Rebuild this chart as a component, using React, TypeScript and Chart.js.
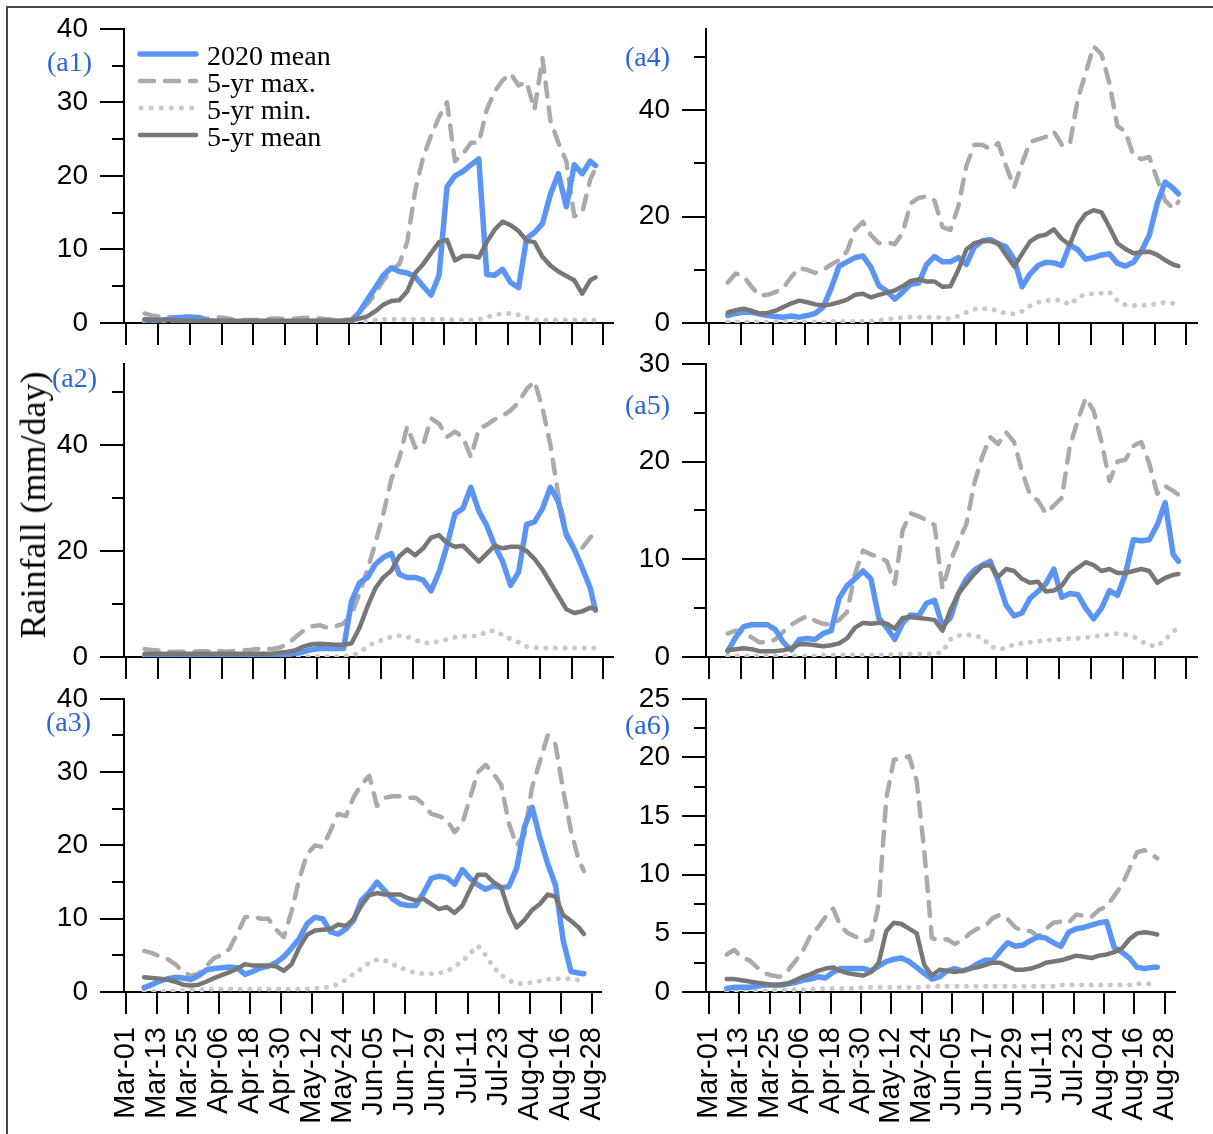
import React, { useEffect, useRef } from "react";
import { Chart, registerables } from "chart.js";

Chart.register(...registerables);

// ---------- DATA ----------
// Day index counted from Mar-01 (= 0)
const DAYS = [
  7, 10, 13, 16, 19, 22, 25, 28, 31, 34,
  37, 40, 43, 46, 49, 52, 55, 58, 61, 64,
  67, 70, 73, 76, 79, 82, 85, 88, 91, 94,
  97, 100, 103, 106, 109, 112, 115, 118, 121, 124,
  127, 130, 133, 136, 139, 142, 145, 148, 151, 154,
  157, 160, 163, 166, 169, 172, 175, 177,
];
const X_TICKS = [0, 12, 24, 36, 48, 60, 72, 84, 96, 108, 120, 132, 144, 156, 168, 180];
const X_LABELS = [
  "Mar-01", "Mar-13", "Mar-25", "Apr-06", "Apr-18", "Apr-30", "May-12", "May-24",
  "Jun-05", "Jun-17", "Jun-29", "Jul-11", "Jul-23", "Aug-04", "Aug-16", "Aug-28",
];
const SERIES_NAMES = ["2020 mean", "5-yr max.", "5-yr min.", "5-yr mean"];

// (a1)
const A1_2020 = [
  0.4, 0.4, 0.4, 0.5, 0.7, 0.8, 0.8, 0.7, 0.3, 0.2,
  0.2, 0.1, 0.1, 0.1, 0.1, 0.1, 0.1, 0.1, 0.1, 0.1,
  0.2, 0.2, 0.2, 0.2, 0.2, 0.2, 0.3, 1.5, 3.2, 4.8,
  6.5, 7.5, 7.0, 6.8, 6.3, 5.0, 3.8, 6.5, 18.5, 20.0,
  20.6, 21.5, 22.3, 6.6, 6.5, 7.3, 5.5, 4.8, 11.5, 12.3,
  13.5, 17.5, 20.3, 15.8, 21.5, 20.3, 22.0, 21.4,
];
const A1_MAX = [
  1.3, 1.0, 0.9, 0.8, 0.8, 0.6, 0.5, 0.4, 0.6, 0.8,
  0.7, 0.5, 0.4, 0.4, 0.4, 0.5, 0.6, 0.6, 0.5, 0.6,
  0.7, 0.7, 0.6, 0.5, 0.4, 0.4, 0.5, 1.5, 2.6, 4.0,
  5.8, 7.2, 8.0, 11.0, 18.0, 22.5, 25.5, 28.0, 30.0, 22.0,
  23.0, 24.5, 24.5, 29.0, 31.5, 33.0, 33.9, 32.3, 32.8, 29.0,
  36.0, 27.5, 24.5, 22.0, 14.5, 15.0, 19.5, 21.0,
];
const A1_MIN = [
  0.1, 0.1, 0.1, 0.1, 0.1, 0.1, 0.1, 0.1, 0.1, 0.1,
  0.1, 0.1, 0.1, 0.1, 0.1, 0.1, 0.1, 0.1, 0.1, 0.1,
  0.1, 0.1, 0.1, 0.1, 0.1, 0.1, 0.1, 0.2, 0.3, 0.4,
  0.5, 0.5, 0.5, 0.5, 0.5, 0.5, 0.5, 0.5, 0.5, 0.4,
  0.4, 0.4, 0.5, 0.8, 1.1, 1.3, 1.3, 1.1, 0.7, 0.4,
  0.4, 0.4, 0.4, 0.4, 0.4, 0.4, 0.4, 0.4,
];
const A1_MEAN = [
  0.5, 0.4, 0.4, 0.4, 0.3, 0.3, 0.3, 0.3, 0.3, 0.3,
  0.3, 0.3, 0.3, 0.3, 0.3, 0.3, 0.3, 0.3, 0.3, 0.3,
  0.3, 0.3, 0.3, 0.3, 0.3, 0.3, 0.4, 0.6, 0.9, 1.6,
  2.5, 3.0, 3.1, 4.3, 6.8, 8.0, 9.5, 11.0, 11.3, 8.5,
  9.1, 9.1, 8.9, 11.0, 12.7, 13.8, 13.3, 12.5, 11.2, 11.0,
  9.0, 7.8, 7.0, 6.4, 5.8, 4.0, 5.8, 6.2,
];

// (a2)
const A2_2020 = [
  0.3, 0.3, 0.3, 0.3, 0.3, 0.3, 0.3, 0.3, 0.3, 0.3,
  0.3, 0.4, 0.4, 0.4, 0.4, 0.4, 0.4, 0.4, 0.5, 0.7,
  1.0, 1.4, 1.6, 1.6, 1.6, 1.6, 10.5, 14.0, 15.0, 17.5,
  18.8, 19.5, 15.6, 15.0, 15.0, 14.5, 12.5, 16.0, 21.0, 27.0,
  28.0, 32.0, 27.5, 24.8, 21.0, 18.0, 13.5, 16.0, 25.0, 25.5,
  28.0, 32.0, 29.3, 23.0, 20.3, 16.8, 13.0, 8.8,
];
const A2_MAX = [
  1.5, 1.3, 1.2, 1.0, 1.0, 1.0, 1.0, 1.1, 1.1, 1.2,
  1.0, 1.1, 1.2, 1.3, 1.5, 1.6, 1.5, 1.8, 2.5, 3.8,
  5.0, 5.8, 6.0, 5.5, 5.8, 6.3, 8.0, 12.0, 16.5, 21.5,
  27.0, 33.5, 37.5, 43.5, 39.5, 40.0, 45.0, 44.0, 41.5, 42.5,
  41.5, 37.7, 43.0, 43.8, 44.8, 45.5, 46.5, 48.0, 50.5, 52.0,
  47.0, 40.0, 30.5, 23.5, 20.5, 20.6, 22.5, 23.7,
];
const A2_MIN = [
  0.1, 0.1, 0.1, 0.1, 0.1, 0.1, 0.1, 0.1, 0.1, 0.1,
  0.1, 0.1, 0.1, 0.1, 0.1, 0.1, 0.1, 0.1, 0.1, 0.1,
  0.1, 0.1, 0.1, 0.1, 0.1, 0.1, 0.3, 0.8, 2.0, 2.8,
  3.3, 3.8, 4.0, 3.8, 3.2, 2.7, 2.6, 3.0, 3.3, 3.7,
  3.9, 3.9, 4.0, 4.8, 5.0, 4.1, 3.4, 2.8, 2.0, 1.8,
  1.7, 1.7, 1.7, 1.7, 1.7, 1.7, 1.7, 1.7,
];
const A2_MEAN = [
  0.6, 0.6, 0.6, 0.6, 0.6, 0.6, 0.6, 0.6, 0.6, 0.6,
  0.6, 0.6, 0.6, 0.6, 0.6, 0.6, 0.6, 0.8, 1.0, 1.3,
  2.0, 2.4, 2.5, 2.4, 2.3, 2.3, 2.6, 5.5, 9.5, 13.0,
  15.0, 16.3, 19.0, 20.3, 19.2, 20.5, 22.5, 23.0, 21.5, 20.8,
  21.0, 19.5, 18.0, 19.5, 21.0, 20.5, 20.8, 20.8, 20.0, 18.5,
  16.5, 14.0, 11.5, 9.0, 8.3, 8.6, 9.3, 9.1,
];

// (a3)
const A3_2020 = [
  0.6, 1.0, 1.5, 1.8, 2.0, 1.9, 1.7, 2.2, 3.0, 3.2,
  3.3, 3.4, 3.3, 2.4, 2.8, 3.3, 3.5, 4.0, 4.8, 6.0,
  7.3, 9.3, 10.2, 10.0, 8.2, 7.9, 8.6, 9.8, 12.5, 13.6,
  15.0, 13.8, 12.7, 12.0, 11.8, 11.8, 13.5, 15.5, 15.8, 15.6,
  14.7, 16.7, 15.5, 14.6, 14.0, 14.5, 14.2, 14.4, 16.9, 22.5,
  25.2, 21.0, 17.5, 14.6, 7.0, 2.8, 2.6, 2.5,
];
const A3_MAX = [
  5.6, 5.3, 4.9, 4.5, 3.8, 2.8, 2.2, 2.5, 3.5, 4.6,
  5.1, 5.9, 8.0, 10.2, 10.3, 10.0, 10.0, 8.5, 7.5, 11.0,
  15.5, 18.8, 20.0, 19.8, 22.0, 24.3, 24.0, 26.6, 28.3, 29.5,
  25.4, 26.5, 26.7, 26.7, 26.5, 26.5, 25.6, 24.3, 24.0, 23.5,
  21.8, 23.0, 26.5, 30.0, 31.0, 29.8, 28.3, 23.0, 20.0, 21.5,
  28.0, 31.5, 35.0, 33.8, 27.5, 22.0, 18.0, 16.5,
];
const A3_MIN = [
  0.1, 0.1, 0.1, 0.1, 0.1, 0.2, 0.3, 0.3, 0.3, 0.4,
  0.4, 0.4, 0.4, 0.4, 0.4, 0.4, 0.4, 0.4, 0.4, 0.4,
  0.4, 0.4, 0.5, 0.6, 0.7, 1.1, 1.7, 2.5, 3.2, 4.0,
  4.4, 4.3, 3.8, 3.3, 2.9, 2.6, 2.5, 2.5, 2.6, 2.8,
  3.5, 4.2, 5.3, 6.3, 5.0, 3.4, 2.3, 1.6, 1.1, 1.2,
  1.3, 1.5, 1.7, 1.8, 1.8, 1.8, 1.6, 1.6,
];
const A3_MEAN = [
  2.0, 1.9, 1.8, 1.7, 1.4, 1.0, 0.9, 1.0, 1.4, 1.9,
  2.3, 2.7, 3.2, 3.8, 3.6, 3.6, 3.6, 3.5, 2.9, 3.8,
  6.1, 7.8, 8.4, 8.5, 8.6, 9.2, 9.0, 10.0, 11.8, 13.2,
  13.5, 13.3, 13.3, 13.3, 12.8, 12.5, 12.7, 12.0, 11.3, 11.6,
  10.8, 11.8, 14.0, 16.0, 16.0, 15.0, 14.3, 11.0, 8.8, 9.8,
  11.2, 12.0, 13.3, 13.0, 10.5, 9.7, 8.8, 7.9,
];

// (a4)
const A4_2020 = [
  1.4, 1.8, 2.0, 2.0, 1.7, 1.4, 1.2, 1.1, 1.3, 1.1,
  1.4, 1.8, 3.0, 6.5, 10.7, 11.5, 12.3, 12.6, 10.5, 7.0,
  6.0, 4.5, 5.8, 7.3, 7.5, 11.0, 12.5, 11.5, 11.5, 12.3,
  11.0, 14.3, 15.4, 15.7, 14.9, 14.3, 12.0, 6.8, 9.2, 10.8,
  11.4, 11.3, 10.8, 14.7, 13.8, 12.0, 12.3, 12.8, 13.0, 11.2,
  10.7, 11.4, 13.5, 16.5, 22.5, 26.5, 25.3, 24.3,
];
const A4_MAX = [
  7.6, 9.3, 8.8, 6.8, 5.1, 5.3, 5.8, 6.6, 8.7, 10.3,
  10.0, 9.4, 10.0, 11.0, 11.8, 13.5, 17.5, 19.0, 16.5, 15.0,
  15.2, 14.8, 17.0, 22.5, 23.5, 23.8, 23.0, 18.0, 17.5, 22.0,
  29.5, 33.5, 33.5, 32.7, 33.8, 29.5, 25.5, 30.0, 34.0, 34.5,
  35.0, 36.0, 33.5, 33.5, 42.0, 47.0, 52.0, 50.5, 45.0, 37.0,
  36.0, 31.5, 30.8, 31.2, 27.0, 23.0, 21.5, 22.8,
];
const A4_MIN = [
  0.2, 0.2, 0.2, 0.2, 0.2, 0.2, 0.2, 0.2, 0.2, 0.2,
  0.2, 0.2, 0.2, 0.3, 0.3, 0.3, 0.3, 0.3, 0.3, 0.5,
  0.7, 0.9, 1.0, 1.1, 1.1, 1.1, 1.1, 1.0, 0.8, 1.3,
  2.0, 2.6, 2.7, 2.7, 2.2, 1.8, 1.7, 2.2, 3.2, 3.9,
  4.2, 4.4, 4.2, 3.4, 4.8, 5.4, 5.5, 5.6, 5.8, 4.2,
  3.4, 3.3, 3.3, 3.4, 3.6, 3.9, 3.7, 3.7,
];
const A4_MEAN = [
  2.0, 2.4, 2.7, 2.3, 1.8, 1.9, 2.3, 3.0, 3.7, 4.2,
  3.9, 3.5, 3.3, 3.5, 3.9, 4.4, 5.3, 5.5, 4.8, 5.3,
  5.7, 6.1, 6.9, 7.9, 8.2, 7.8, 7.8, 6.8, 6.9, 10.0,
  13.8, 15.0, 15.4, 15.4, 15.0, 12.8, 10.6, 13.0, 15.3, 16.3,
  16.6, 17.6, 15.8, 14.7, 18.5, 20.5, 21.2, 20.8, 18.0, 15.0,
  13.9, 13.1, 13.3, 13.4, 12.8, 11.8, 11.0, 10.7,
];

// (a5)
const A5_2020 = [
  0.6, 2.0, 3.1, 3.3, 3.3, 3.3, 2.8, 1.5, 0.7, 1.8,
  1.9, 1.8, 2.4, 2.7, 6.0, 7.3, 8.0, 8.8, 8.0, 4.0,
  3.0, 1.8, 3.5, 4.3, 4.2, 5.5, 5.8, 3.2, 4.0, 6.5,
  8.0, 8.9, 9.4, 9.8, 7.8, 5.3, 4.2, 4.5, 6.0, 6.7,
  7.5, 9.0, 6.1, 6.5, 6.4, 5.0, 3.9, 5.0, 6.8, 6.3,
  8.5, 12.0, 11.9, 12.0, 13.5, 15.8, 10.5, 9.8,
];
const A5_MAX = [
  2.4, 2.7, 2.6, 2.0, 1.5, 1.5, 1.8, 2.6, 3.3, 3.8,
  4.2, 3.7, 3.4, 3.3, 3.8, 4.6, 8.5, 10.9, 10.5, 10.2,
  9.8, 7.5, 13.0, 14.7, 14.4, 14.0, 13.5, 7.0, 9.8, 11.8,
  13.6, 17.8, 20.5, 22.5, 21.8, 23.0, 22.0, 19.0, 16.6, 16.0,
  14.7, 15.5, 16.3, 21.5, 24.2, 26.5, 25.2, 22.0, 18.0, 20.0,
  20.2, 21.6, 22.0, 19.8, 16.7, 17.5, 17.0, 16.6,
];
const A5_MIN = [
  0.1, 0.1, 0.1, 0.1, 0.1, 0.1, 0.1, 0.1, 0.1, 0.1,
  0.1, 0.1, 0.2, 0.2, 0.2, 0.2, 0.2, 0.2, 0.2, 0.2,
  0.2, 0.3, 0.3, 0.3, 0.3, 0.3, 0.3, 0.5, 1.8, 2.2,
  2.3, 2.2, 2.0, 1.1, 0.8, 0.9, 1.3, 1.4, 1.5, 1.6,
  1.7, 1.8, 1.8, 1.9, 1.9, 2.0, 2.1, 2.2, 2.3, 2.4,
  2.3, 2.1, 1.6, 1.2, 1.1, 1.8, 2.6, 3.0,
];
const A5_MEAN = [
  0.7, 0.8, 0.9, 0.8, 0.6, 0.6, 0.6, 0.7, 0.9, 1.3,
  1.3, 1.2, 1.1, 1.2, 1.4, 1.9, 3.0, 3.5, 3.4, 3.5,
  3.4, 2.9, 4.0, 4.1, 4.0, 3.9, 3.8, 2.7, 4.8, 6.5,
  7.5, 8.5, 9.3, 9.4, 8.2, 9.0, 8.8, 8.0, 7.6, 7.7,
  6.7, 6.8, 7.3, 8.5, 9.1, 9.7, 9.4, 8.8, 9.0, 8.6,
  8.6, 8.8, 9.0, 8.8, 7.6, 8.1, 8.4, 8.5,
];

// (a6)
const A6_2020 = [
  0.3, 0.4, 0.4, 0.4, 0.5, 0.6, 0.6, 0.6, 0.7, 0.8,
  1.0, 1.1, 1.3, 1.2, 1.7, 2.0, 2.0, 2.0, 2.0, 1.8,
  2.2, 2.6, 2.8, 2.9, 2.6, 2.1, 1.6, 1.1, 1.3, 1.8,
  2.0, 1.8, 2.0, 2.4, 2.7, 2.7, 3.5, 4.2, 3.9, 4.0,
  4.4, 4.7, 4.6, 4.2, 3.9, 5.1, 5.4, 5.5, 5.7, 5.9,
  6.0, 3.8, 3.4, 2.9, 2.1, 2.0, 2.1, 2.1,
];
const A6_MAX = [
  3.2, 3.6, 2.9, 2.7, 2.1, 1.6, 1.4, 1.3, 1.8, 2.6,
  3.5, 4.8, 5.5, 6.4, 7.1, 5.6, 5.0, 4.7, 4.3, 4.5,
  7.5, 16.5, 19.8, 19.9, 20.1, 18.0, 12.0, 4.6, 4.4, 4.5,
  4.1, 4.4, 5.0, 5.4, 5.6, 6.3, 6.6, 6.2, 5.5, 5.2,
  5.2, 4.7, 5.4, 5.9, 6.0, 5.9, 6.6, 6.5, 6.4, 7.0,
  7.3, 8.2, 9.1, 10.5, 11.9, 12.1, 11.7, 11.4,
];
const A6_MIN = [
  0.1, 0.1, 0.1, 0.1, 0.1, 0.1, 0.1, 0.2, 0.2, 0.2,
  0.2, 0.2, 0.3, 0.3, 0.3, 0.3, 0.3, 0.3, 0.4, 0.4,
  0.4, 0.4, 0.4, 0.4, 0.4, 0.4, 0.4, 0.5, 0.5, 0.5,
  0.5, 0.5, 0.5, 0.5, 0.5, 0.5, 0.5, 0.5, 0.5, 0.5,
  0.5, 0.5, 0.5, 0.5, 0.6, 0.6, 0.6, 0.6, 0.6, 0.6,
  0.6, 0.6, 0.6, 0.6, 0.7, 0.7, 0.7, 0.7,
];
const A6_MEAN = [
  1.1, 1.1, 1.0, 0.9, 0.8, 0.7, 0.6, 0.6, 0.7, 1.0,
  1.3, 1.5, 1.8, 2.0, 2.1, 1.8, 1.6, 1.5, 1.4, 1.7,
  2.5, 5.2, 5.9, 5.8, 5.4, 5.0, 2.3, 1.4, 1.9, 1.8,
  1.7, 1.8, 2.0, 2.1, 2.3, 2.5, 2.5, 2.2, 1.9, 1.9,
  2.0, 2.2, 2.5, 2.6, 2.7, 2.9, 3.1, 3.0, 2.9, 3.1,
  3.2, 3.4, 3.7, 4.5, 5.0, 5.1, 5.0, 4.9,
];

// y-axis ticks per panel
const Y_MAJOR_40 = [0, 10, 20, 30, 40];
const Y_MINOR_40 = [5, 15, 25, 35];
const Y_MAJOR_55 = [0, 20, 40];
const Y_MINOR_55 = [10, 30, 50];
const Y_MAJOR_30 = [0, 10, 20, 30];
const Y_MINOR_30 = [5, 15, 25];
const Y_MAJOR_25 = [0, 5, 10, 15, 20, 25];
const Y_MINOR_25 = [2.5, 7.5, 12.5, 17.5, 22.5];

// ---------- STYLE / LAYOUT ----------
const BLUE = "#5b95f4";
const MAX_GREY = "#aaaaaa";
const MIN_GREY = "#c9c9c9";
const MEAN_GREY = "#777777";
const LABEL_BLUE = "#2a64d8";
const SANS = "'Liberation Sans', Arial, Helvetica, sans-serif";
const SERIF = "'Liberation Serif', 'Times New Roman', Times, serif";

const COLS = [
  { canvasLeft: 0, canvasRight: 640, left: 124, right: 613, xMin: -0.8, xMax: 183.6 },
  { canvasLeft: 620, canvasRight: 1213, left: 706, right: 1197, xMin: -1.2, xMax: 184 },
];
const ROWS = [
  { canvasTop: 0, canvasBottom: 355, top: 25, bottom: 323 },
  { canvasTop: 335, canvasBottom: 690, top: 360, bottom: 657 },
  { canvasTop: 670, canvasBottom: 1134, top: 695, bottom: 992 },
];

type PanelSpec = {
  key: string;
  label: string;
  col: number;
  row: number;
  yMax: number;
  major: number[];
  minor: number[];
  series: number[][];
  labelLeft: number;
  labelTop: number;
  legend?: boolean;
};

const PANELS: PanelSpec[] = [
  { key: "a1", label: "(a1)", col: 0, row: 0, yMax: 40, major: Y_MAJOR_40, minor: Y_MINOR_40,
    series: [A1_2020, A1_MAX, A1_MIN, A1_MEAN], labelLeft: 47, labelTop: 47.5, legend: true },
  { key: "a2", label: "(a2)", col: 0, row: 1, yMax: 55.3, major: Y_MAJOR_55, minor: Y_MINOR_55,
    series: [A2_2020, A2_MAX, A2_MIN, A2_MEAN], labelLeft: 52, labelTop: 364 },
  { key: "a3", label: "(a3)", col: 0, row: 2, yMax: 40, major: Y_MAJOR_40, minor: Y_MINOR_40,
    series: [A3_2020, A3_MAX, A3_MIN, A3_MEAN], labelLeft: 46, labelTop: 707.5 },
  { key: "a4", label: "(a4)", col: 1, row: 0, yMax: 55.3, major: Y_MAJOR_55, minor: Y_MINOR_55,
    series: [A4_2020, A4_MAX, A4_MIN, A4_MEAN], labelLeft: 625, labelTop: 42.5 },
  { key: "a5", label: "(a5)", col: 1, row: 1, yMax: 30, major: Y_MAJOR_30, minor: Y_MINOR_30,
    series: [A5_2020, A5_MAX, A5_MIN, A5_MEAN], labelLeft: 625, labelTop: 391 },
  { key: "a6", label: "(a6)", col: 1, row: 2, yMax: 25, major: Y_MAJOR_25, minor: Y_MINOR_25,
    series: [A6_2020, A6_MAX, A6_MIN, A6_MEAN], labelLeft: 625, labelTop: 711 },
];

const LINE_STYLES = [
  { color: BLUE, width: 5.5, dash: [] as number[], cap: "round" as CanvasLineCap, order: 1 },
  { color: MAX_GREY, width: 4.5, dash: [14, 11], cap: "round" as CanvasLineCap, order: 2 },
  { color: MIN_GREY, width: 5, dash: [0.1, 9.5], cap: "round" as CanvasLineCap, order: 3 },
  { color: MEAN_GREY, width: 4.5, dash: [] as number[], cap: "round" as CanvasLineCap, order: 0 },
];

function minorTickPlugin(values: number[]) {
  return {
    id: "minorTicks",
    afterDraw(chart: any) {
      const y = chart.scales.y;
      const ctx = chart.ctx as CanvasRenderingContext2D;
      const left = chart.chartArea.left;
      ctx.save();
      ctx.strokeStyle = "#000";
      ctx.lineWidth = 2;
      values.forEach((v) => {
        const py = Math.round(y.getPixelForValue(v));
        ctx.beginPath();
        ctx.moveTo(left - 12, py);
        ctx.lineTo(left, py);
        ctx.stroke();
      });
      ctx.restore();
    },
  };
}

const legendPlugin = {
  id: "panelLegend",
  afterDraw(chart: any) {
    const ctx = chart.ctx as CanvasRenderingContext2D;
    const rowsY = [54, 81, 108, 135];
    SERIES_NAMES.forEach((name, i) => {
      const st = LINE_STYLES[i];
      const y = rowsY[i];
      ctx.save();
      ctx.strokeStyle = st.color;
      ctx.lineWidth = st.width;
      ctx.lineCap = st.cap;
      ctx.setLineDash(i === 2 ? [0.1, 10] : st.dash);
      ctx.beginPath();
      ctx.moveTo(i === 2 ? 141 : 140, y);
      ctx.lineTo(196, y);
      ctx.stroke();
      ctx.restore();
      ctx.save();
      ctx.fillStyle = "#000";
      ctx.font = `28px ${SERIF}`;
      ctx.textBaseline = "alphabetic";
      ctx.textAlign = "left";
      ctx.fillText(name, 207, y + 10.5);
      ctx.restore();
    });
  },
};

function Panel({ spec }: { spec: PanelSpec }) {
  const ref = useRef<HTMLCanvasElement | null>(null);
  const col = COLS[spec.col];
  const row = ROWS[spec.row];
  const W = col.canvasRight - col.canvasLeft;
  const H = row.canvasBottom - row.canvasTop;

  useEffect(() => {
    if (!ref.current) return;
    const datasets = spec.series.map((vals, i) => {
      const st = LINE_STYLES[i];
      return {
        label: SERIES_NAMES[i],
        data: DAYS.map((d, j) => ({ x: d, y: vals[j] })),
        borderColor: st.color,
        backgroundColor: st.color,
        borderWidth: st.width,
        borderDash: st.dash,
        borderCapStyle: st.cap,
        borderJoinStyle: "round" as CanvasLineJoin,
        pointRadius: 0,
        fill: false,
        tension: 0,
        order: st.order,
      };
    });
    const plugins: any[] = [minorTickPlugin(spec.minor)];
    if (spec.legend) plugins.push(legendPlugin);

    const chart = new Chart(ref.current, {
      type: "line",
      data: { datasets },
      options: {
        responsive: false,
        animation: false,
        devicePixelRatio: 1,
        events: [],
        layout: {
          padding: {
            left: 0,
            top: row.top - row.canvasTop,
            right: col.canvasRight - col.right,
            bottom: 0,
          },
        },
        plugins: { legend: { display: false }, tooltip: { enabled: false } },
        scales: {
          x: {
            type: "linear",
            min: col.xMin,
            max: col.xMax,
            afterBuildTicks: (s: any) => {
              s.ticks = X_TICKS.map((v) => ({ value: v }));
            },
            afterFit: (s: any) => {
              s.height = row.canvasBottom - row.bottom;
            },
            grid: {
              display: true,
              drawOnChartArea: false,
              drawTicks: true,
              tickLength: 22,
              tickWidth: 2,
              tickColor: "#000",
              lineWidth: 2,
              color: "#000",
            },
            border: { display: true, color: "#000", width: 2 },
            ticks: {
              display: spec.row === 2,
              autoSkip: false,
              minRotation: 90,
              maxRotation: 90,
              padding: 13,
              color: "#000",
              font: { family: SANS, size: 29 },
              callback: (v: any) => {
                const i = X_TICKS.indexOf(Number(v));
                return i >= 0 ? X_LABELS[i] : "";
              },
            },
          },
          y: {
            type: "linear",
            min: 0,
            max: spec.yMax,
            afterBuildTicks: (s: any) => {
              s.ticks = spec.major.map((v) => ({ value: v }));
            },
            afterFit: (s: any) => {
              s.width = col.left - col.canvasLeft;
            },
            grid: {
              display: true,
              drawOnChartArea: false,
              drawTicks: true,
              tickLength: 24,
              tickWidth: 2,
              tickColor: "#000",
              lineWidth: 2,
              color: "#000",
            },
            border: { display: true, color: "#000", width: 2 },
            ticks: {
              autoSkip: false,
              padding: 12,
              color: "#000",
              font: { family: SANS, size: 28 },
              callback: (v: any) => String(v),
            },
          },
        },
      } as any,
      plugins,
    });
    return () => chart.destroy();
  }, []);

  return (
    <canvas
      ref={ref}
      width={W}
      height={H}
      style={{ position: "absolute", left: col.canvasLeft, top: row.canvasTop, width: W, height: H }}
    />
  );
}

export default function App() {
  return (
    <div
      style={{
        position: "absolute",
        left: 0,
        top: 0,
        width: 1213,
        height: 1134,
        background: "#fff",
        overflow: "hidden",
      }}
    >
      <div
        style={{
          position: "absolute",
          left: 6,
          top: 6,
          width: 1220,
          height: 1140,
          borderTop: "2px solid #4a4a4a",
          borderLeft: "2px solid #4a4a4a",
        }}
      />
      {PANELS.map((p) => (
        <Panel key={p.key} spec={p} />
      ))}
      {PANELS.map((p) => (
        <div
          key={p.key + "-label"}
          style={{
            position: "absolute",
            left: p.labelLeft,
            top: p.labelTop,
            fontFamily: SERIF,
            fontSize: 28,
            lineHeight: "28px",
            color: LABEL_BLUE,
            whiteSpace: "nowrap",
          }}
        >
          {p.label}
        </div>
      ))}
      <div
        style={{
          position: "absolute",
          left: 33,
          top: 505,
          transform: "translate(-50%, -50%) rotate(-90deg)",
          fontFamily: SERIF,
          fontSize: 36,
          lineHeight: "36px",
          whiteSpace: "nowrap",
          color: "#000",
        }}
      >
        Rainfall (mm/day)
      </div>
    </div>
  );
}
